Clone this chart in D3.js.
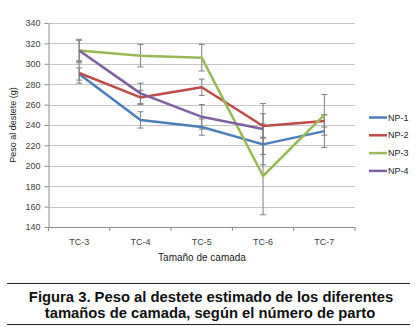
<!DOCTYPE html>
<html>
<head>
<meta charset="utf-8">
<script src="https://cdn.jsdelivr.net/npm/d3@7"></script>
<style>
  body { margin: 0; background: #fff; }
  svg { display: block; font-family: "Liberation Sans", Arial, sans-serif; }
  .axis text { font-size: 9px; fill: #404040; }
  .axis path, .axis line { stroke: #8c8c8c; }
  .grid line { stroke: #c4c4c4; }
</style>
</head>
<body>
<div id="chart"></div>
<script>

// Litter size categories
var categories = ["TC-3", "TC-4", "TC-5", "TC-6", "TC-7"];
var yTicks = [140, 160, 180, 200, 220, 240, 260, 280, 300, 320, 340];

// Weaning weight (g) per parity, null = no data
var np1 = [290, 245, 238, 221, 234];
var np2 = [291, 267, 277, 239, 244];
var np3 = [313, 308, 306, 190, 250];
var np4 = [313, 271, 248, 236, null];

// Error bar half-widths (g)
var np1Err = [6, 8, 8, 20, 16];
var np2Err = [10, 7, 8, 12, 6];
var np3Err = [11, 11, 13, 38, 20];
var np4Err = [10, 10, 12, 25, null];

var seriesNames = ["NP-1", "NP-2", "NP-3", "NP-4"];
var seriesColors = ["#4a7ebb", "#be4b48", "#98b954", "#7d60a0"];

var series = [
    { name: seriesNames[0], color: seriesColors[0], values: np1, err: np1Err },
    { name: seriesNames[1], color: seriesColors[1], values: np2, err: np2Err },
    { name: seriesNames[2], color: seriesColors[2], values: np3, err: np3Err },
    { name: seriesNames[3], color: seriesColors[3], values: np4, err: np4Err }
];

var margin = { top: 23, right: 60, bottom: 100, left: 48.5 };

var root = d3.select("#chart").append("svg")
    .attr("width", 415)
    .attr("height", 327);

var svg = root.append("g")
    .attr("transform", "translate(" + margin.left + "," + margin.top + ")");

// Scales
var x = d3.scaleBand()
    .domain(categories)
    .range([0, 306.5]);

var y = d3.scaleLinear()
    .domain([140, 340])
    .range([204, 0]);

// Gridlines
svg.append("g")
    .attr("class", "grid")
    .selectAll("line")
    .data(yTicks.slice(1))
    .enter().append("line")
    .attr("x1", 0)
    .attr("x2", x.range()[1])
    .attr("y1", function(d) { return Math.round(y(d)) + 0.5; })
    .attr("y2", function(d) { return Math.round(y(d)) + 0.5; });

// Axes
var yAxis = d3.axisLeft(y)
    .tickValues(yTicks)
    .tickSize(4)
    .tickPadding(4)
    .tickSizeOuter(0);

svg.append("g")
    .attr("class", "y-axis axis")
    .call(yAxis);

var xAxis = d3.axisBottom(x)
    .tickSize(0)
    .tickPadding(12)
    .tickSizeOuter(0);

var xg = svg.append("g")
    .attr("class", "x-axis axis")
    .attr("transform", "translate(0,204)")
    .call(xAxis);

// tick marks between the categories
xg.selectAll(".sep")
    .data(d3.range(categories.length + 1))
    .enter().append("line")
    .attr("class", "sep")
    .attr("x1", function(i) { return i * x.step(); })
    .attr("x2", function(i) { return i * x.step(); })
    .attr("y1", 0)
    .attr("y2", 4);

// Error bars
var errData = [];
series.forEach(function(s) {
    s.values.forEach(function(v, i) {
        if (v !== null) errData.push({ cat: categories[i], v: v, e: s.err[i] });
    });
});

var cx = function(d) { return x(d.cat) + x.bandwidth() / 2; };

var eb = svg.append("g").attr("class", "errbars")
    .attr("stroke", "#7f7f7f")
    .attr("stroke-width", 1);

eb.selectAll(".stem")
    .data(errData)
    .enter().append("line")
    .attr("x1", cx).attr("x2", cx)
    .attr("y1", function(d) { return y(d.v + d.e); })
    .attr("y2", function(d) { return y(d.v - d.e); });

eb.selectAll(".capTop")
    .data(errData)
    .enter().append("line")
    .attr("x1", function(d) { return cx(d) - 3; })
    .attr("x2", function(d) { return cx(d) + 3; })
    .attr("y1", function(d) { return y(d.v + d.e); })
    .attr("y2", function(d) { return y(d.v + d.e); });

eb.selectAll(".capBot")
    .data(errData)
    .enter().append("line")
    .attr("x1", function(d) { return cx(d) - 3; })
    .attr("x2", function(d) { return cx(d) + 3; })
    .attr("y1", function(d) { return y(d.v - d.e); })
    .attr("y2", function(d) { return y(d.v - d.e); });

// Lines
var line = d3.line()
    .defined(function(d) { return d.v !== null; })
    .x(cx)
    .y(function(d) { return y(d.v); });

svg.selectAll(".series")
    .data(series)
    .enter().append("path")
    .attr("class", "series")
    .attr("fill", "none")
    .attr("stroke", function(d) { return d.color; })
    .attr("stroke-width", 2.5)
    .attr("stroke-linejoin", "round")
    .attr("d", function(s) {
        return line(s.values.map(function(v, i) { return { cat: categories[i], v: v }; }));
    });

// Axis titles
root.append("text")
    .attr("transform", "translate(16,125) rotate(-90)")
    .attr("text-anchor", "middle")
    .style("font-size", "9px")
    .style("fill", "#222")
    .text("Peso al destete (g)");

root.append("text")
    .attr("x", 202)
    .attr("y", 261)
    .attr("text-anchor", "middle")
    .style("font-size", "10px")
    .style("fill", "#222")
    .text("Tamaño de camada");

// Legend
var legend = root.selectAll(".legend")
    .data(series)
    .enter().append("g")
    .attr("class", "legend")
    .attr("transform", function(d, i) { return "translate(369," + (117.5 + i * 17.8) + ")"; });

legend.append("line")
    .attr("x1", 0).attr("x2", 18)
    .attr("stroke", function(d) { return d.color; })
    .attr("stroke-width", 2.5);

legend.append("text")
    .attr("x", 19)
    .attr("dy", "0.35em")
    .style("font-size", "9px")
    .style("fill", "#222")
    .text(function(d) { return d.name; });

// Caption
root.append("line")
    .attr("x1", 7).attr("x2", 410)
    .attr("y1", 283.5).attr("y2", 283.5)
    .attr("stroke", "#222").attr("stroke-width", 1.2);

root.append("line")
    .attr("x1", 7).attr("x2", 410)
    .attr("y1", 324.5).attr("y2", 324.5)
    .attr("stroke", "#222").attr("stroke-width", 1.2);

var caption = root.append("text")
    .attr("text-anchor", "middle")
    .style("font-size", "14.8px")
    .style("font-weight", "bold")
    .style("fill", "#111");

caption.append("tspan")
    .attr("x", 211).attr("y", 301.5)
    .text("Figura 3. Peso al destete estimado de los diferentes");

caption.append("tspan")
    .attr("x", 210).attr("y", 317.5)
    .text("tamaños de camada, según el número de parto");

</script>
</body>
</html>
